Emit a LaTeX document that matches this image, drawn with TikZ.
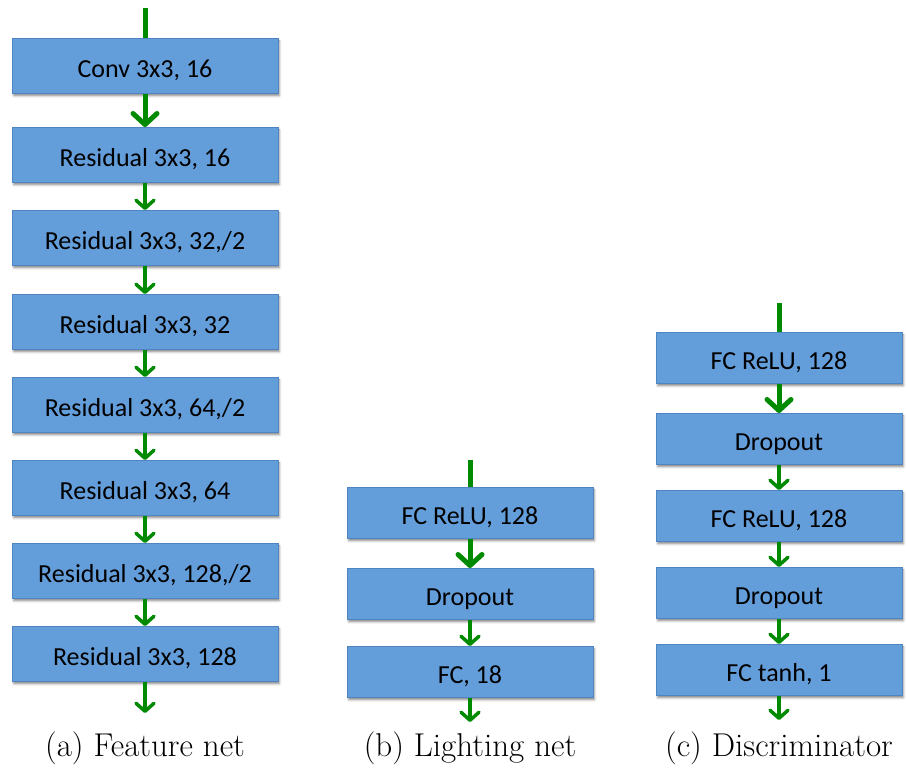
\documentclass[tikz,border=0pt]{standalone}
\usepackage{fontspec}
\newfontfamily\boxfont{Carlito}
\usetikzlibrary{arrows.meta,shadows.blur}
\definecolor{layerfill}{RGB}{99,158,219}
\definecolor{layeredge}{RGB}{78,132,192}
\definecolor{flowgreen}{RGB}{0,138,0}
\tikzset{
  layer/.style={rectangle, fill=layerfill, draw=layeredge, line width=0.7pt,
    anchor=north, inner sep=0pt, text height=23pt, text depth=0pt,
    blur shadow={shadow xshift=1.5pt, shadow yshift=-2.5pt, shadow blur radius=2pt, shadow opacity=45},
    font=\boxfont\fontsize{26}{31}\selectfont},
  tallbox/.style={layer, minimum width=266pt, minimum height=55pt},
  shortbox/.style={layer, minimum width=246pt, minimum height=51pt},
  inline/.style={draw=flowgreen, line width=5pt},
  bigflow/.style={draw=flowgreen, line width=5pt, -{Straight Barb[length=11pt,width=24pt,round]}},
  smallflow/.style={draw=flowgreen, line width=3.5pt, -{Straight Barb[length=8pt,width=18pt,round]}},
  caption/.style={font=\fontsize{33}{40}\selectfont, anchor=center}
}
\begin{document}
\begin{tikzpicture}[x=1pt, y=-1pt]
\useasboundingbox (0,0) rectangle (906,782);

% (a) feature network
\node[tallbox] (a1) at (145,38)  {Conv 3x3, 16};
\node[tallbox] (a2) at (145,127) {Residual 3x3, 16};
\node[tallbox] (a3) at (145,210) {Residual 3x3, 32,/2};
\node[tallbox] (a4) at (145,294) {Residual 3x3, 32};
\node[tallbox] (a5) at (145,377) {Residual 3x3, 64,/2};
\node[tallbox] (a6) at (145,460) {Residual 3x3, 64};
\node[tallbox] (a7) at (145,543) {Residual 3x3, 128,/2};
\node[tallbox] (a8) at (145,626) {Residual 3x3, 128};
\coordinate (ain) at (145,8);
\coordinate (aout) at (145,713);
\draw[inline] (ain) -- (a1.north);
\draw[bigflow] (a1.south) -- (a2.north);
\draw[smallflow] (a2.south) -- (a3.north);
\draw[smallflow] (a3.south) -- (a4.north);
\draw[smallflow] (a4.south) -- (a5.north);
\draw[smallflow] (a5.south) -- (a6.north);
\draw[smallflow] (a6.south) -- (a7.north);
\draw[smallflow] (a7.south) -- (a8.north);
\draw[smallflow] (a8.south) -- (aout);
\node[caption] (capa) at (145,748) {(a) Feature net};

% (b) lighting network
\node[shortbox] (b1) at (470,487) {FC ReLU, 128};
\node[shortbox] (b2) at (470,568) {Dropout};
\node[shortbox] (b3) at (470,646) {FC, 18};
\coordinate (bin) at (470,460);
\coordinate (bout) at (470,722);
\draw[inline] (bin) -- (b1.north);
\draw[bigflow] (b1.south) -- (b2.north);
\draw[smallflow] (b2.south) -- (b3.north);
\draw[smallflow] (b3.south) -- (bout);
\node[caption] (capb) at (470,748) {(b) Lighting net};

% (c) discriminator
\node[shortbox] (c1) at (779,332) {FC ReLU, 128};
\node[shortbox] (c2) at (779,413) {Dropout};
\node[shortbox] (c3) at (779,490) {FC ReLU, 128};
\node[shortbox] (c4) at (779,567) {Dropout};
\node[shortbox] (c5) at (779,644) {FC tanh, 1};
\coordinate (cin) at (779,303);
\coordinate (cout) at (779,720);
\draw[inline] (cin) -- (c1.north);
\draw[bigflow] (c1.south) -- (c2.north);
\draw[smallflow] (c2.south) -- (c3.north);
\draw[smallflow] (c3.south) -- (c4.north);
\draw[smallflow] (c4.south) -- (c5.north);
\draw[smallflow] (c5.south) -- (cout);
\node[caption] (capc) at (779,748) {(c) Discriminator};
\end{tikzpicture}
\end{document}
